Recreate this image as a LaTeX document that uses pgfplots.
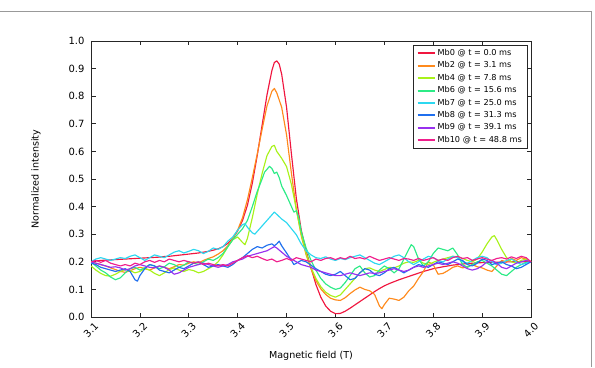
\documentclass[border=0pt]{standalone}
\usepackage{fontspec}
\setmainfont{DejaVu Sans}
\usepackage{pgfplots}
\pgfplotsset{compat=1.18}

\definecolor{cMbO}{HTML}{F0163F}
\definecolor{cMbB}{HTML}{FF8A1C}
\definecolor{cMbD}{HTML}{A8F21A}
\definecolor{cMbF}{HTML}{2CEB86}
\definecolor{cMbG}{HTML}{2CD8F0}
\definecolor{cMbH}{HTML}{1F6FEE}
\definecolor{cMbI}{HTML}{9830EE}
\definecolor{cMbJ}{HTML}{F01E8C}

\begin{document}
\begin{tikzpicture}[x=1bp,y=1bp]
\path[use as bounding box] (0,0) rectangle (595,367);
\draw[gray!80, line width=0.8bp] (0,356) -- (591,356) -- (591,0);
\begin{axis}[
  at={(91bp,50bp)}, anchor=south west,
  scale only axis, width=440bp, height=276bp,
  xmin=3.1, xmax=4.0, ymin=0, ymax=1.0,
  xtick={3.1,3.2,3.3,3.4,3.5,3.6,3.7,3.8,3.9,4.0},
  ytick={0,0.1,0.2,0.3,0.4,0.5,0.6,0.7,0.8,0.9,1.0},
  tick align=inside, tick pos=both,
  major tick length=4.5bp,
  axis line style={line width=0.8bp, black!85},
  every tick/.style={black!85, line width=0.7bp},
  /pgf/number format/assume math mode=true,
  /pgf/number format/.cd, fixed, fixed zerofill, precision=1, /pgfplots/.cd,
  tick label style={font=\fontsize{10}{12}\selectfont},
  xticklabel style={yshift=-13bp, rotate=45, anchor=center},
  yticklabel style={anchor=east, xshift=-3bp},
  xlabel={Magnetic field (T)},
  ylabel={Normalized intensity},
  label style={font=\fontsize{9.6}{11}\selectfont},
  xlabel style={at={(axis description cs:0.5,-0.141)}, anchor=center},
  ylabel style={at={(axis description cs:-0.125,0.5)}, anchor=center},
  legend style={at={(1,1)}, anchor=north east, xshift=-4bp, yshift=-4bp,
    draw=black!85, inner xsep=3bp, inner ysep=2bp,
    font=\fontsize{8.2}{9}\selectfont,
    nodes={text height=6bp, text depth=1.8bp, inner ysep=2.3bp, inner xsep=2bp},
    row sep=0bp},
  legend cell align=left,
  legend image code/.code={\draw[#1, line width=2bp] (0bp,0bp) -- (17bp,0bp);},
  every axis plot/.append style={line width=1.15bp, line join=round},
]
% Mb0
\addplot[color=cMbO] table {
3.10 .200
3.11 .203
3.12 .205
3.13 .206
3.14 .207
3.15 .208
3.16 .209
3.17 .210
3.18 .211
3.19 .212
3.20 .213
3.21 .214
3.22 .215
3.23 .216
3.24 .217
3.25 .219
3.26 .220
3.27 .222
3.28 .224
3.29 .226
3.30 .228
3.31 .230
3.32 .232
3.33 .235
3.34 .238
3.35 .242
3.36 .247
3.37 .255
3.38 .267
3.39 .285
3.40 .312
3.41 .350
3.42 .405
3.43 .485
3.44 .585
3.45 .695
3.46 .805
3.47 .893
3.475 .922
3.48 .928
3.485 .916
3.49 .880
3.50 .760
3.51 .590
3.52 .430
3.53 .315
3.54 .240
3.55 .178
3.56 .118
3.57 .072
3.58 .040
3.59 .021
3.60 .012
3.61 .013
3.62 .021
3.63 .032
3.64 .044
3.65 .056
3.66 .068
3.67 .080
3.68 .092
3.69 .103
3.70 .113
3.71 .121
3.72 .128
3.73 .135
3.74 .141
3.75 .147
3.76 .153
3.77 .159
3.78 .165
3.79 .170
3.80 .175
3.82 .182
3.84 .188
3.86 .192
3.88 .195
3.90 .197
3.92 .198
3.94 .199
3.96 .200
3.98 .200
4.00 .200
};
\addlegendentry{Mb0 @ t = 0.0 ms}
% Mb2
\addplot[color=cMbB] table {
3.10 .200
3.11 .195
3.12 .190
3.13 .185
3.14 .178
3.15 .172
3.16 .165
3.17 .162
3.18 .168
3.19 .175
3.20 .180
3.21 .176
3.22 .170
3.23 .178
3.24 .185
3.25 .180
3.26 .175
3.27 .182
3.28 .190
3.29 .188
3.30 .195
3.31 .200
3.32 .196
3.33 .205
3.34 .212
3.35 .218
3.36 .228
3.37 .240
3.38 .258
3.39 .285
3.40 .315
3.41 .360
3.42 .425
3.43 .505
3.44 .590
3.45 .680
3.46 .765
3.47 .818
3.475 .828
3.48 .812
3.49 .760
3.50 .660
3.51 .520
3.52 .390
3.53 .295
3.54 .225
3.55 .175
3.56 .132
3.57 .102
3.58 .082
3.59 .068
3.60 .062
3.61 .060
3.62 .070
3.63 .085
3.64 .098
3.65 .108
3.66 .100
3.67 .095
3.68 .082
3.69 .040
3.695 .030
3.70 .045
3.71 .068
3.72 .065
3.73 .060
3.74 .072
3.75 .095
3.76 .112
3.77 .140
3.78 .165
3.79 .200
3.80 .190
3.81 .155
3.82 .158
3.83 .168
3.84 .180
3.85 .185
3.86 .178
3.87 .182
3.88 .190
3.89 .182
3.90 .178
3.91 .170
3.92 .165
3.93 .185
3.94 .205
3.95 .200
3.96 .212
3.97 .205
3.98 .215
3.99 .210
4.00 .200
};
\addlegendentry{Mb2 @ t = 3.1 ms}
% Mb4
\addplot[color=cMbD] table {
3.10 .185
3.11 .170
3.12 .158
3.13 .150
3.14 .148
3.15 .155
3.16 .165
3.17 .172
3.18 .168
3.19 .160
3.20 .165
3.21 .175
3.22 .170
3.23 .158
3.24 .150
3.25 .160
3.26 .172
3.27 .178
3.28 .170
3.29 .165
3.30 .172
3.31 .168
3.32 .160
3.33 .165
3.34 .175
3.35 .185
3.36 .200
3.37 .225
3.38 .255
3.39 .280
3.40 .290
3.41 .270
3.415 .262
3.42 .285
3.43 .360
3.44 .445
3.45 .520
3.46 .585
3.47 .618
3.475 .622
3.48 .600
3.49 .575
3.50 .545
3.51 .480
3.52 .390
3.53 .300
3.54 .230
3.55 .180
3.56 .140
3.57 .110
3.58 .090
3.59 .078
3.60 .072
3.61 .080
3.62 .100
3.63 .120
3.64 .140
3.65 .160
3.66 .175
3.67 .178
3.68 .170
3.69 .165
3.70 .172
3.71 .180
3.72 .178
3.73 .185
3.74 .195
3.75 .200
3.76 .198
3.77 .205
3.78 .195
3.79 .190
3.80 .198
3.81 .205
3.82 .210
3.83 .215
3.84 .220
3.85 .218
3.86 .212
3.87 .205
3.88 .200
3.89 .210
3.90 .235
3.91 .265
3.92 .290
3.925 .295
3.93 .280
3.94 .245
3.95 .215
3.96 .200
3.97 .195
3.98 .205
3.99 .210
4.00 .200
};
\addlegendentry{Mb4 @ t = 7.8 ms}
% Mb6
\addplot[color=cMbF] table {
3.10 .200
3.11 .185
3.12 .170
3.13 .160
3.14 .145
3.15 .135
3.16 .142
3.17 .160
3.18 .175
3.19 .180
3.20 .170
3.21 .178
3.22 .190
3.23 .185
3.24 .175
3.25 .182
3.26 .195
3.27 .190
3.28 .180
3.29 .188
3.30 .200
3.31 .195
3.32 .190
3.33 .200
3.34 .210
3.35 .205
3.36 .215
3.37 .230
3.38 .255
3.39 .280
3.40 .300
3.41 .320
3.42 .350
3.43 .400
3.44 .455
3.45 .500
3.455 .525
3.46 .535
3.465 .546
3.47 .538
3.475 .520
3.48 .525
3.485 .505
3.49 .475
3.50 .440
3.51 .400
3.515 .380
3.52 .385
3.525 .360
3.53 .310
3.54 .250
3.55 .205
3.56 .170
3.57 .140
3.58 .120
3.59 .108
3.60 .100
3.61 .105
3.62 .125
3.63 .150
3.64 .175
3.65 .185
3.66 .160
3.67 .145
3.68 .150
3.69 .170
3.70 .185
3.71 .175
3.72 .160
3.73 .175
3.74 .210
3.75 .245
3.755 .262
3.76 .255
3.77 .210
3.78 .185
3.79 .200
3.80 .230
3.81 .250
3.82 .245
3.83 .240
3.84 .250
3.85 .225
3.86 .190
3.87 .180
3.88 .190
3.89 .200
3.90 .205
3.91 .195
3.92 .185
3.93 .170
3.94 .155
3.95 .150
3.96 .165
3.97 .180
3.98 .190
3.99 .198
4.00 .200
};
\addlegendentry{Mb6 @ t = 15.6 ms}
% Mb7
\addplot[color=cMbG] table {
3.10 .200
3.11 .210
3.12 .215
3.13 .210
3.14 .205
3.15 .210
3.16 .215
3.17 .212
3.18 .220
3.19 .225
3.20 .215
3.21 .205
3.22 .215
3.23 .225
3.24 .220
3.25 .215
3.26 .225
3.27 .235
3.28 .240
3.29 .232
3.30 .238
3.31 .245
3.32 .240
3.33 .230
3.34 .238
3.35 .250
3.36 .245
3.37 .255
3.38 .275
3.39 .290
3.40 .315
3.41 .335
3.415 .338
3.42 .325
3.43 .305
3.435 .300
3.44 .310
3.45 .330
3.46 .350
3.47 .370
3.475 .380
3.48 .372
3.49 .355
3.50 .342
3.51 .320
3.52 .298
3.53 .265
3.54 .240
3.55 .225
3.56 .215
3.57 .212
3.58 .218
3.59 .210
3.60 .205
3.61 .212
3.62 .208
3.63 .215
3.64 .220
3.65 .225
3.66 .215
3.67 .205
3.68 .195
3.69 .190
3.70 .200
3.71 .210
3.72 .220
3.73 .225
3.74 .215
3.75 .200
3.76 .190
3.77 .200
3.78 .210
3.79 .220
3.80 .215
3.81 .205
3.82 .200
3.83 .210
3.84 .220
3.85 .215
3.86 .200
3.87 .195
3.88 .205
3.89 .215
3.90 .220
3.91 .215
3.92 .200
3.93 .190
3.94 .195
3.95 .205
3.96 .210
3.97 .200
3.98 .190
3.99 .195
4.00 .200
};
\addlegendentry{Mb7 @ t = 25.0 ms}
% Mb8
\addplot[color=cMbH] table {
3.10 .195
3.11 .190
3.12 .180
3.13 .175
3.14 .170
3.15 .165
3.16 .170
3.17 .175
3.18 .165
3.19 .135
3.195 .130
3.20 .150
3.21 .175
3.22 .190
3.23 .185
3.24 .170
3.25 .165
3.26 .160
3.27 .170
3.28 .180
3.29 .175
3.30 .185
3.31 .195
3.32 .200
3.33 .190
3.34 .180
3.35 .185
3.36 .190
3.37 .185
3.38 .180
3.39 .190
3.40 .205
3.41 .215
3.42 .230
3.43 .245
3.44 .255
3.45 .250
3.46 .260
3.47 .265
3.475 .258
3.48 .265
3.485 .275
3.49 .258
3.50 .232
3.51 .205
3.515 .190
3.52 .195
3.53 .205
3.54 .200
3.55 .188
3.56 .175
3.57 .165
3.58 .155
3.59 .150
3.60 .155
3.61 .165
3.62 .150
3.63 .135
3.64 .140
3.65 .160
3.66 .175
3.67 .170
3.68 .155
3.69 .150
3.70 .160
3.71 .175
3.72 .180
3.73 .170
3.74 .160
3.75 .170
3.76 .180
3.77 .190
3.78 .185
3.79 .180
3.80 .190
3.81 .200
3.82 .195
3.83 .190
3.84 .200
3.85 .210
3.86 .205
3.87 .190
3.88 .185
3.89 .195
3.90 .210
3.91 .205
3.92 .190
3.93 .195
3.94 .200
3.95 .190
3.96 .185
3.97 .175
3.98 .180
3.99 .190
4.00 .200
};
\addlegendentry{Mb8 @ t = 31.3 ms}
% Mb9
\addplot[color=cMbI] table {
3.10 .200
3.11 .195
3.12 .190
3.13 .185
3.14 .180
3.15 .182
3.16 .178
3.17 .170
3.18 .175
3.19 .185
3.20 .190
3.21 .185
3.22 .180
3.23 .178
3.24 .185
3.25 .180
3.26 .170
3.27 .155
3.28 .160
3.29 .170
3.30 .180
3.31 .185
3.32 .190
3.33 .195
3.34 .190
3.35 .185
3.36 .180
3.37 .185
3.38 .190
3.39 .200
3.40 .205
3.41 .210
3.42 .220
3.43 .225
3.44 .230
3.45 .235
3.46 .240
3.47 .250
3.475 .255
3.48 .250
3.49 .235
3.50 .220
3.51 .210
3.52 .200
3.53 .190
3.54 .185
3.55 .180
3.56 .170
3.57 .165
3.58 .160
3.59 .155
3.60 .150
3.61 .150
3.62 .155
3.63 .160
3.64 .155
3.65 .150
3.66 .155
3.67 .160
3.68 .158
3.69 .160
3.70 .165
3.71 .170
3.72 .175
3.73 .170
3.74 .165
3.75 .170
3.76 .180
3.77 .185
3.78 .180
3.79 .185
3.80 .190
3.81 .195
3.82 .190
3.83 .195
3.84 .200
3.85 .195
3.86 .185
3.87 .175
3.88 .170
3.89 .175
3.90 .185
3.91 .200
3.92 .205
3.93 .195
3.94 .180
3.95 .175
3.96 .185
3.97 .195
3.98 .200
3.99 .205
4.00 .200
};
\addlegendentry{Mb9 @ t = 39.1 ms}
% Mb10
\addplot[color=cMbJ] table {
3.10 .200
3.11 .205
3.12 .198
3.13 .205
3.14 .195
3.15 .190
3.16 .185
3.17 .190
3.18 .185
3.19 .195
3.20 .190
3.21 .200
3.22 .205
3.23 .198
3.24 .205
3.25 .200
3.26 .210
3.27 .205
3.28 .200
3.29 .205
3.30 .200
3.31 .195
3.32 .200
3.33 .190
3.34 .195
3.35 .190
3.36 .185
3.37 .190
3.38 .185
3.39 .195
3.40 .205
3.41 .215
3.42 .222
3.43 .215
3.44 .220
3.45 .212
3.46 .205
3.47 .210
3.48 .200
3.49 .205
3.50 .212
3.51 .205
3.52 .215
3.53 .210
3.54 .205
3.55 .200
3.56 .210
3.57 .205
3.58 .212
3.59 .215
3.60 .208
3.61 .215
3.62 .210
3.63 .220
3.64 .212
3.65 .215
3.66 .210
3.67 .220
3.68 .212
3.69 .205
3.70 .210
3.71 .215
3.72 .210
3.73 .205
3.74 .212
3.75 .210
3.76 .205
3.77 .212
3.78 .205
3.79 .210
3.80 .215
3.81 .205
3.82 .210
3.83 .205
3.84 .215
3.85 .220
3.86 .212
3.87 .215
3.88 .205
3.89 .210
3.90 .215
3.91 .210
3.92 .205
3.93 .212
3.94 .215
3.95 .210
3.96 .218
3.97 .212
3.98 .220
3.99 .215
4.00 .200
};
\addlegendentry{Mb10 @ t = 48.8 ms}
\end{axis}
\end{tikzpicture}
\end{document}
